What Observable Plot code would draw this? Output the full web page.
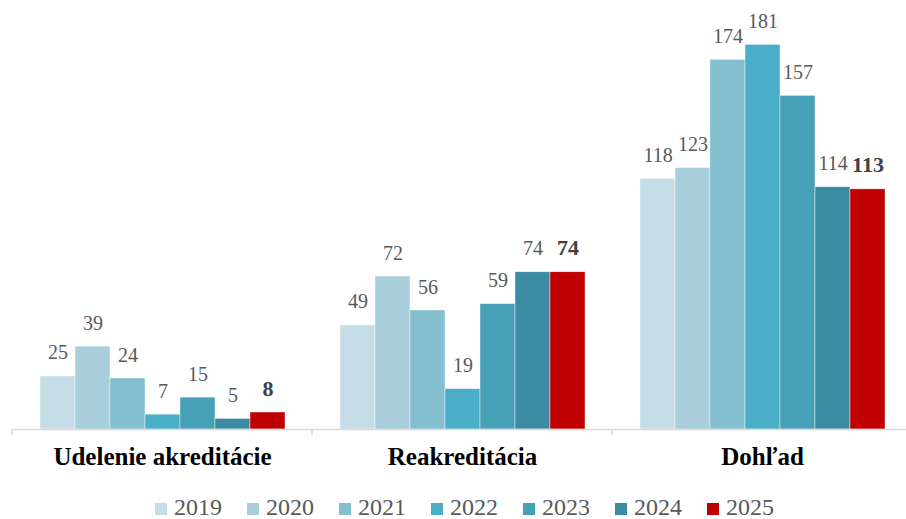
<!DOCTYPE html>
<html>
<head>
<meta charset="utf-8">
<script src="https://cdn.jsdelivr.net/npm/d3@7"></script>
<script src="https://cdn.jsdelivr.net/npm/@observablehq/plot@0.6"></script>
<style>
  html, body { margin: 0; padding: 0; background: #fff; }
  #chart { width: 906px; }
  .legend { display: flex; font-family: "Liberation Serif", serif; font-size: 24px; line-height: 20px; color: #595959; padding-left: 155px; padding-top: 17px; }
  .legend .item { display: flex; align-items: center; width: 92px; flex: none; }
  .legend .sw { width: 12px; height: 12px; margin-right: 7px; transform: translateY(2px); }
</style>
</head>
<body>
<div id="chart"></div>
<script>
const categories = ["Udelenie akreditácie", "Reakreditácia", "Dohľad"];
const years = ["2019", "2020", "2021", "2022", "2023", "2024", "2025"];
const colors = ["#c5dde6", "#a9cfdc", "#84bfd0", "#4aaec8", "#46a0b8", "#3b8ba3", "#c00000"];
const valuesUdelenie = [25, 39, 24, 7, 15, 5, 8];
const valuesReakreditacia = [49, 72, 56, 19, 59, 74, 74];
const valuesDohlad = [118, 123, 174, 181, 157, 114, 113];

const seriesByCategory = [valuesUdelenie, valuesReakreditacia, valuesDohlad];
const data = [];
categories.forEach((c, i) => {
  years.forEach((y, j) => data.push({category: c, year: y, value: seriesByCategory[i][j]}));
});

const font = "Liberation Serif, serif";
const chart = Plot.plot({
  width: 906,
  height: 480,
  marginLeft: 12,
  marginRight: -6,
  marginTop: 4,
  marginBottom: 51,
  style: {fontFamily: font, background: "#fff"},
  fx: {domain: categories, paddingInner: 0, paddingOuter: 0, label: null},
  x: {domain: years, paddingInner: 0, paddingOuter: 0.73, axis: null},
  y: {domain: [0, 200], axis: null},
  color: {domain: years, range: colors},
  marks: [
    Plot.barY(data, {fx: "category", x: "year", y: "value", fill: "year", stroke: "#ffffff", strokeWidth: 0.6, strokeOpacity: 0.7}),
    Plot.ruleY([0], {stroke: "#d9d9d9", strokeWidth: 1.5}),
    Plot.text(data.filter(d => d.year !== "2025"), {fx: "category", x: "year", y: "value", text: d => String(d.value), lineAnchor: "bottom", dy: -17, fontSize: 20, fill: "#595959"}),
    Plot.text(data.filter(d => d.year === "2025"), {fx: "category", x: "year", y: "value", text: d => String(d.value), lineAnchor: "bottom", dy: -17, fontSize: 22, fontWeight: "bold", fill: "#404040"}),
    Plot.axisFx({anchor: "bottom", tickSize: 0, tickPadding: 18, fontSize: 25, fontWeight: "bold", fill: "#000", label: null})
  ]
});

// tick marks at group boundaries, positioned by the fx scale
const fx = chart.scale("fx");
const svg = d3.select(chart.tagName === "svg" ? chart : chart.querySelector("svg"));
const yBase = chart.scale("y").apply(0);
const edges = categories.map(c => fx.apply(c));
edges.push(fx.apply(categories[categories.length - 1]) + fx.bandwidth);
svg.append("g").selectAll("line").data(edges).join("line")
  .attr("x1", d => d).attr("x2", d => d)
  .attr("y1", yBase).attr("y2", yBase + 6)
  .attr("stroke", "#d9d9d9").attr("stroke-width", 1.5);

document.getElementById("chart").appendChild(chart);

const legend = document.createElement("div");
legend.className = "legend";
years.forEach((y, i) => {
  const item = document.createElement("div");
  item.className = "item";
  const sw = document.createElement("span");
  sw.className = "sw";
  sw.style.background = colors[i];
  const t = document.createElement("span");
  t.textContent = y;
  item.appendChild(sw);
  item.appendChild(t);
  legend.appendChild(item);
});
document.getElementById("chart").appendChild(legend);
</script>
</body>
</html>
